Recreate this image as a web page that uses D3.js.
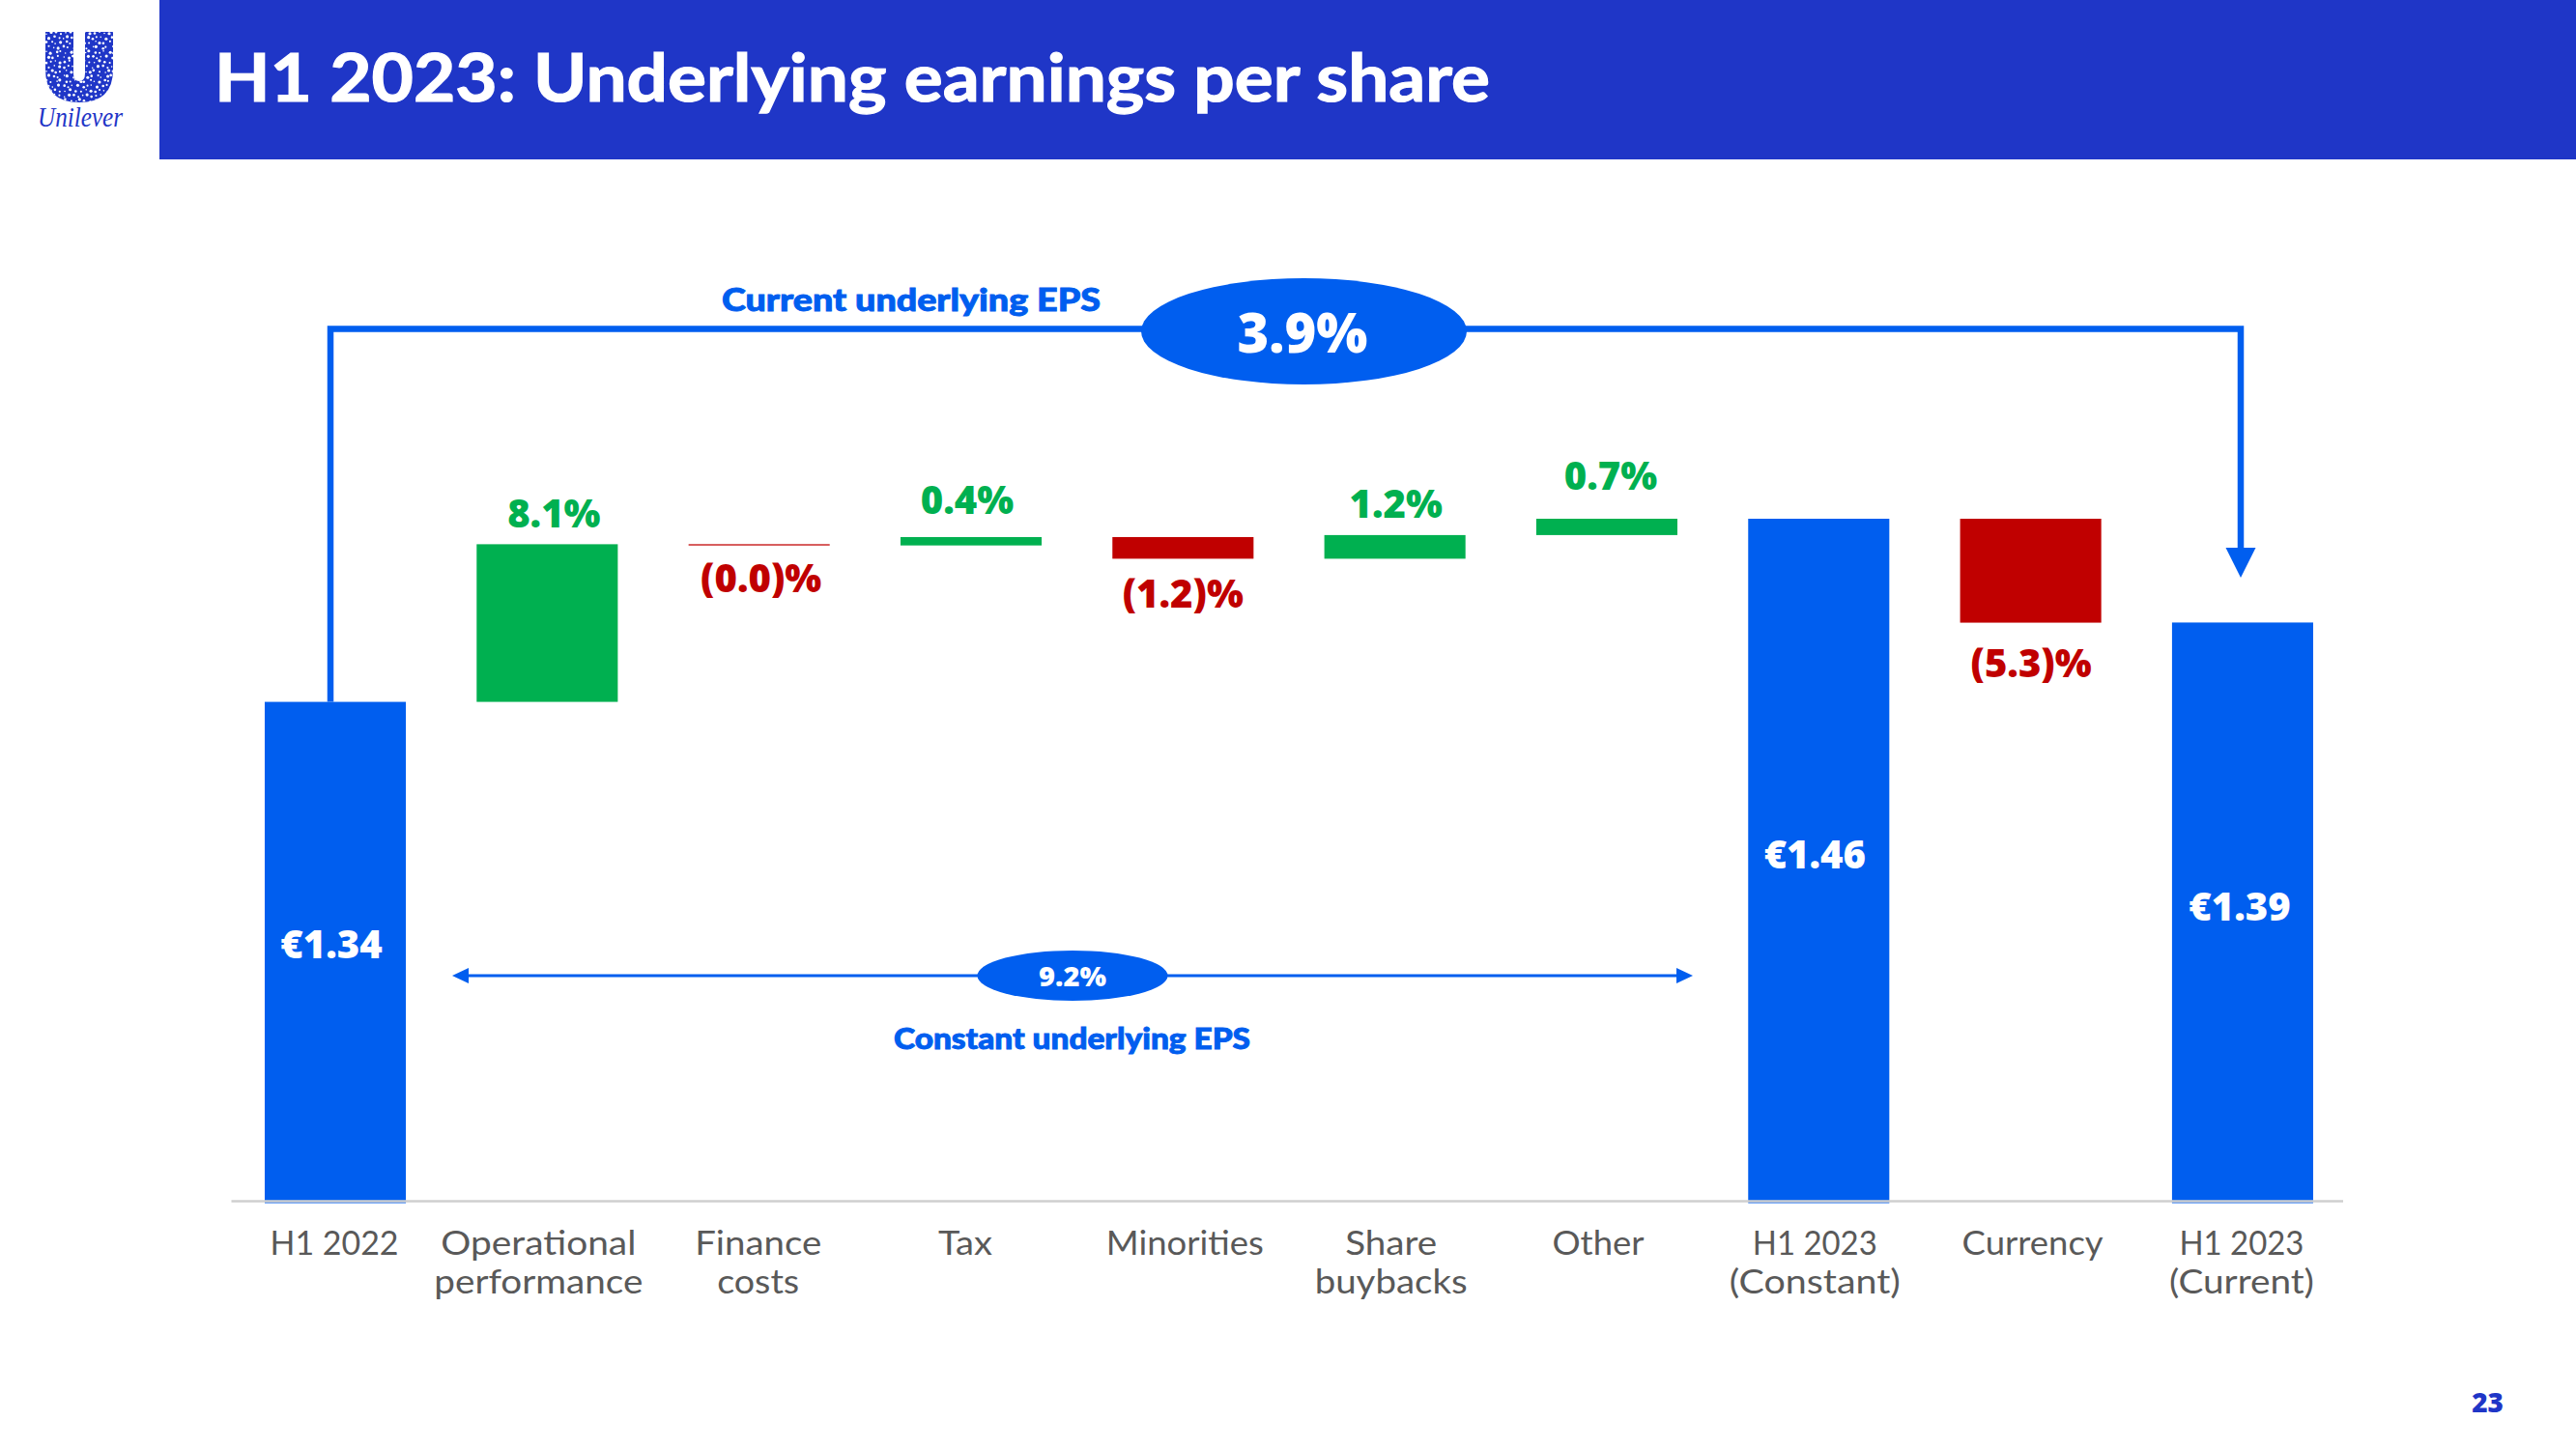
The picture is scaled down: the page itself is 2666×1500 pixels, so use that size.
<!DOCTYPE html>
<html>
<head>
<meta charset="utf-8">
<script src="https://cdnjs.cloudflare.com/ajax/libs/d3/7.8.5/d3.min.js"></script>
<style>
  body { margin: 0; background: #fff; }
  text { font-family: Lato, "Noto Sans", sans-serif; }
</style>
</head>
<body>
<div id="chart"></div>
<script>
var categories = ["H1 2022", "Operational|performance", "Finance|costs", "Tax", "Minorities",
                  "Share|buybacks", "Other", "H1 2023|(Constant)", "Currency", "H1 2023|(Current)"];
// totals in euro, null for the steps in between
var totals = [1.34, null, null, null, null, null, null, 1.46, null, 1.392];
// steps of the waterfall
var deltas = [null, 0.1033, -0.0008, 0.0055, -0.0142, 0.0155, 0.0107, null, -0.0681, null];
var valueLabels = ["€1.34", "8.1%", "(0.0)%", "0.4%", "(1.2)%", "1.2%", "0.7%", "€1.46", "(5.3)%", "€1.39"];
var currentGrowth = "3.9%";
var constantGrowth = "9.2%";

var blue = "#005eef", navy = "#1f36c7", green = "#00b050", red = "#c00000", grey = "#595959";
var numberFont = "'Open Sans', sans-serif";

var svg = d3.select("#chart")
  .append("svg")
    .attr("width", 2666)
    .attr("height", 1500)
    .style("display", "block");

// Header
svg.append("rect")
    .attr("x", 165).attr("y", 0)
    .attr("width", 2501).attr("height", 165)
    .attr("fill", navy);
svg.append("text")
    .attr("x", 222).attr("y", 105)
    .attr("font-size", 68).attr("font-weight", 700)
    .attr("textLength", 1320).attr("lengthAdjust", "spacingAndGlyphs")
    .attr("fill", "#fff")
    .attr("stroke", "#fff").attr("stroke-width", 1.2)
    .text("H1 2023: Underlying earnings per share");

// Logo, the U filled with a small speckle
var logo = svg.append("g");
svg.append("clipPath").attr("id", "logoU")
  .append("path")
    .attr("d", "M47,33 H76 V76 Q76,84 82,84 Q88,84 88,76 V33 H117 V72 Q117,106 82,106 Q47,106 47,72 Z");
var speckle = logo.append("g").attr("clip-path", "url(#logoU)");
speckle.append("rect")
    .attr("x", 47).attr("y", 33)
    .attr("width", 70).attr("height", 73)
    .attr("fill", navy);
d3.range(0, 15).forEach(function (r) {
  d3.range(0, 15).forEach(function (c) {
    speckle.append("circle")
        .attr("cx", 48 + c * 5 + (r % 2) * 2.5 + Math.sin(r * c) * 1.2)
        .attr("cy", 34 + r * 5 + Math.cos(r + c * 2) * 1.2)
        .attr("r", 0.8 + (r * 7 + c * 3) % 4 * 0.25)
        .attr("fill", "#fff");
  });
});
logo.append("text")
    .attr("x", 39).attr("y", 131)
    .attr("font-size", 29).attr("font-style", "italic")
    .attr("textLength", 88).attr("lengthAdjust", "spacingAndGlyphs")
    .style("font-family", "'Liberation Serif', serif")
    .attr("fill", navy)
    .text("Unilever");

// Scales
var x = d3.scaleBand()
  .domain(categories)
  .range([239, 2424.5])
  .paddingInner(0.334)
  .paddingOuter(0.1493)
  .align(0.534);

var y = d3.scaleLinear()
  .domain([1.0115, 1.46])
  .range([1245.5, 537]);

// Running total for the floating bars
var running = 0;
var bars = categories.map(function (c, i) {
  if (totals[i] !== null) {
    running = totals[i];
    return { cat: c, from: y.domain()[0], to: totals[i], fill: blue };
  }
  var from = running;
  running += deltas[i];
  return { cat: c, from: from, to: running, fill: deltas[i] > 0 ? green : red };
});

svg.selectAll("rect.bar")
  .data(bars)
  .enter()
  .append("rect")
    .attr("class", "bar")
    .attr("x", function (d) { return x(d.cat); })
    .attr("y", function (d) { return y(Math.max(d.from, d.to)); })
    .attr("width", x.bandwidth())
    .attr("height", function (d) { return Math.abs(y(d.from) - y(d.to)); })
    .attr("fill", function (d) { return d.fill; });

// Category axis, each label line is its own text, stretched to the width it has in the slide
var axisNudge = [-1, -9, -1, -6, 2, -4, -9, -4, 2, -1];
var axisWidths = [[133], [202, 216], [131, 85], [56], [163], [95, 158], [95], [129, 177], [146], [129, 150]];
var axis = svg.append("g")
    .attr("transform", "translate(0,1243)")
    .call(d3.axisBottom(x).tickSize(0).tickSizeOuter(0));
axis.select(".domain")
    .attr("stroke", "#cfcfcf")
    .attr("stroke-width", 2.5);
axis.selectAll(".tick").each(function (d, i) {
  var tick = d3.select(this);
  tick.select("text").remove();
  d.split("|").forEach(function (line, k) {
    tick.append("text")
        .attr("x", axisNudge[i])
        .attr("y", 56 + k * 40)
        .attr("text-anchor", "middle")
        .attr("font-size", 34)
        .attr("fill", grey)
        .attr("textLength", axisWidths[i][k])
        .attr("lengthAdjust", "spacingAndGlyphs")
        .text(line);
  });
});

// Value labels
var labelNudge = [-4, 7, 2, -4, 0, 1, 4, -4, 0.5, -3];
var labelY = [992, 546, 613, 532, 629, 536, 507, 899, 701, 953];
svg.selectAll("text.value")
  .data(bars)
  .enter()
  .append("text")
    .attr("class", "value")
    .attr("x", function (d, i) { return x(d.cat) + x.bandwidth() / 2 + labelNudge[i]; })
    .attr("y", function (d, i) { return labelY[i]; })
    .attr("text-anchor", "middle")
    .attr("font-size", 40)
    .attr("font-weight", 800)
    .style("font-family", numberFont)
    .attr("fill", function (d) { return d.fill === blue ? "#fff" : d.fill; })
    .text(function (d, i) { return valueLabels[i]; });

// Current EPS bracket
svg.append("path")
    .attr("d", "M342," + y(1.34) + " V340.5 H2319 V570")
    .attr("fill", "none")
    .attr("stroke", blue)
    .attr("stroke-width", 6.5);
svg.append("path")
    .attr("d", "M2303.5,567 H2334.5 L2319,598 Z")
    .attr("fill", blue);
svg.append("ellipse")
    .attr("cx", 1349.5).attr("cy", 343)
    .attr("rx", 168.5).attr("ry", 55)
    .attr("fill", blue);
svg.append("text")
    .attr("x", 1348).attr("y", 365)
    .attr("text-anchor", "middle")
    .attr("font-size", 56).attr("font-weight", 800)
    .style("font-family", numberFont)
    .attr("fill", "#fff")
    .text(currentGrowth);
svg.append("text")
    .attr("x", 747).attr("y", 322)
    .attr("font-size", 33).attr("font-weight", 900)
    .attr("textLength", 392).attr("lengthAdjust", "spacingAndGlyphs")
    .attr("fill", blue)
    .attr("stroke", blue).attr("stroke-width", 0.9)
    .text("Current underlying EPS");

// Constant EPS arrow
svg.append("line")
    .attr("x1", 480).attr("x2", 1740)
    .attr("y1", 1010).attr("y2", 1010)
    .attr("stroke", blue)
    .attr("stroke-width", 3);
svg.append("path")
    .attr("d", "M468,1010 L485,1002 V1018 Z M1752,1010 L1735,1002 V1018 Z")
    .attr("fill", blue);
svg.append("ellipse")
    .attr("cx", 1110).attr("cy", 1010)
    .attr("rx", 98.5).attr("ry", 26)
    .attr("fill", blue);
svg.append("text")
    .attr("x", 1110).attr("y", 1021)
    .attr("text-anchor", "middle")
    .attr("font-size", 29).attr("font-weight", 800)
    .style("font-family", numberFont)
    .attr("fill", "#fff")
    .text(constantGrowth);
svg.append("text")
    .attr("x", 925).attr("y", 1086)
    .attr("font-size", 30).attr("font-weight", 900)
    .attr("textLength", 369).attr("lengthAdjust", "spacingAndGlyphs")
    .attr("fill", blue)
    .attr("stroke", blue).attr("stroke-width", 0.9)
    .text("Constant underlying EPS");

// Page number
svg.append("text")
    .attr("x", 2591).attr("y", 1462)
    .attr("text-anchor", "end")
    .attr("font-size", 28).attr("font-weight", 800)
    .style("font-family", numberFont)
    .attr("fill", navy)
    .text("23");
</script>
</body>
</html>
